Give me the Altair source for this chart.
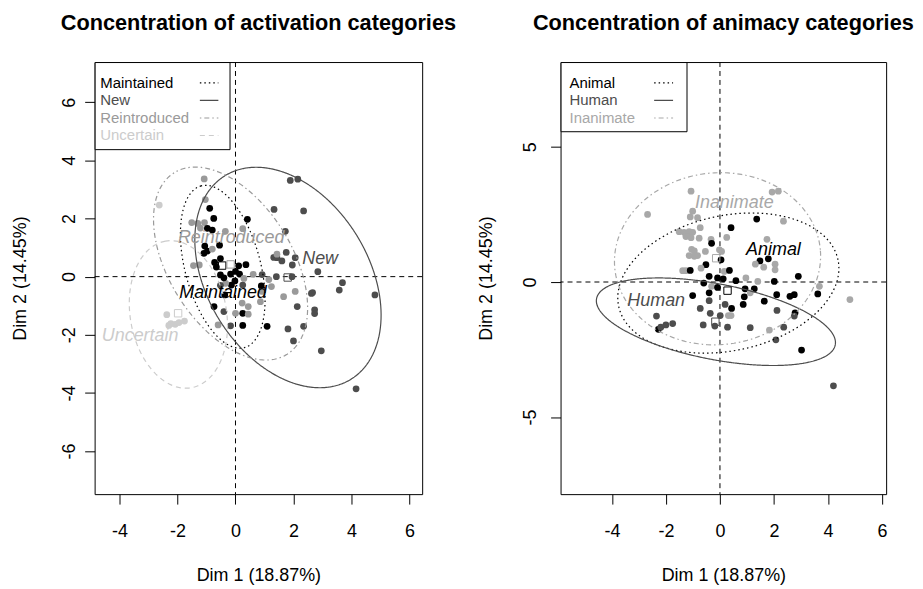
import altair as alt
import numpy as np
import pandas as pd

FONT = "Liberation Sans"

# ---------------- Left panel: activation ----------------
act_cats = ["Maintained", "New", "Reintroduced", "Uncertain"]
act_colors = ["#000000", "#4d4d4d", "#9a9a9a", "#cccccc"]
act_dashes = [[1.5, 3], [1, 0], [1.5, 3, 5, 3], [5, 4]]

act_x = [1.89, 2.15, -1.08, -2.63, -1.04, -0.89, 1.33, 2.35, -0.75, 0.41,
         -1.51, -1.30, -1.07, -1.21, -0.97, -0.80, -0.35, 0.25, 1.72, -1.06,
         -0.97, -1.09, -0.55, -0.80, -0.52, -0.72, -1.45, -1.25, -0.66, 0.11,
         0.36, 0.14, 0.61, -0.52, -0.17, 0.00, 0.92, 1.32, 1.43, 1.60,
         1.75, 2.06, 1.96, 1.41, 1.95, 2.84, 3.69, 3.58, 4.81, 1.24,
         0.89, 2.66, 2.62, 2.06, 1.66, 2.13, 2.73, 2.73, 1.81, 2.35,
         2.00, 2.96, 4.16, 1.09, -0.02, -0.14, 0.29, -0.34, -0.37, 0.25,
         -0.74, -0.40, 0.23, 0.44, 0.00, 0.25, 0.44, -0.17, 0.25, -0.60,
         0.86, 0.92, -0.40, 1.15, -0.52, 1.43, -2.37, -2.23, -2.08, -1.95,
         -1.76, -2.30]
act_y = [3.31, 3.35, 3.36, 2.46, 2.65, 2.35, 2.31, 2.26, 2.00, 1.97,
         1.86, 1.83, 1.86, 1.67, 1.66, 1.60, 1.56, 1.65, 1.56, 1.05,
         0.88, 0.80, 1.08, 0.95, 0.62, 0.49, 0.38, 0.40, 0.33, 0.37,
         0.41, 0.09, 0.08, 0.06, 0.09, 0.18, 0.07, 0.66, 0.65, 0.54,
         0.83, 0.65, 0.40, 0.00, 0.00, 0.17, -0.21, -0.46, -0.63, -0.34,
         -0.32, -0.55, -0.58, -0.51, -0.69, -1.03, -1.14, -1.27, -1.80, -1.71,
         -2.21, -2.55, -3.86, -1.71, -0.15, -0.29, -0.06, -0.23, -0.63, -0.29,
         -1.03, -1.20, -0.91, -1.03, -1.26, -1.26, -1.29, -1.69, -1.68, -1.66,
         -0.86, -0.51, -0.04, -0.10, -0.30, 0.77, -1.31, -1.62, -1.64, -1.58,
         -1.53, -1.68]
act_c = ["New", "New", "Reintroduced", "Uncertain", "Reintroduced", "Maintained", "New", "New", "Maintained", "Maintained",
         "Reintroduced", "Reintroduced", "Reintroduced", "Reintroduced", "Maintained", "Maintained", "Reintroduced", "Reintroduced", "New", "Maintained",
         "Maintained", "Maintained", "Maintained", "Reintroduced", "Maintained", "Maintained", "Reintroduced", "Reintroduced", "Maintained", "Maintained",
         "Maintained", "Maintained", "Reintroduced", "Maintained", "Maintained", "Maintained", "New", "New", "New", "New",
         "New", "New", "New", "New", "New", "New", "New", "New", "New", "Reintroduced",
         "Maintained", "New", "New", "Reintroduced", "Reintroduced", "New", "New", "New", "New", "New",
         "New", "New", "New", "Maintained", "Maintained", "Maintained", "Reintroduced", "Reintroduced", "Maintained", "New",
         "Maintained", "New", "Reintroduced", "Reintroduced", "Reintroduced", "Maintained", "Reintroduced", "New", "Maintained", "Reintroduced",
         "Reintroduced", "Reintroduced", "Maintained", "Reintroduced", "New", "Reintroduced", "Uncertain", "Uncertain", "Uncertain", "Uncertain",
         "Uncertain", "Uncertain"]

# ellipse parameters: centre, semi-axes, rotation (deg)
act_ell_cx = [-0.44, 1.81, -0.17, -1.97]
act_ell_cy = [0.34, -0.03, 0.45, -1.30]
act_ell_a = [2.88, 4.12, 3.68, 2.56]
act_ell_b = [1.30, 2.78, 2.13, 1.66]
act_ell_ang = [105, 122, 122, 100]

act_cen_x = [-0.46, 1.80, -0.17, -1.98]
act_cen_y = [0.38, -0.03, 0.42, -1.26]
act_lab_x = [-0.43, 2.92, -0.15, -3.29]
act_lab_y = [-0.57, 0.60, 1.34, -2.03]

# ---------------- Right panel: animacy ----------------
ani_cats = ["Animal", "Human", "Inanimate"]
ani_colors = ["#000000", "#4d4d4d", "#a8a8a8"]
ani_dashes = [[1.5, 3], [1, 0], [1.5, 3, 5, 3]]

ani_x = [-1.07, 1.93, 2.16, -2.68, -1.01, -1.10, -0.83, 1.36, 2.35, 0.41,
         -0.73, -1.51, -1.33, -1.14, -1.01, -1.26, -1.07, -0.77, -0.33, 0.25,
         1.74, -0.31, -1.05, -0.95, -1.14, -0.95, -0.83, -0.54, -0.02, 0.06,
         -0.52, -0.70, 0.04, 0.16, 0.35, 1.48, 1.79, 1.31, 1.62, 2.04,
         2.04, -1.38, -1.26, -1.10, -0.40, -0.60, -0.09, 0.12, 0.59, 0.96,
         1.40, 2.01, 2.90, -0.31, -0.09, 0.93, 1.27, -1.01, -0.40, 0.90,
         0.86, 1.64, 2.10, 2.59, 2.75, 1.12, 3.62, 3.68, 4.81, -0.73,
         -0.40, 0.19, 0.43, -0.36, 0.01, 0.31, 0.41, 2.11, 2.78, 2.75,
         -2.35, -2.28, -2.19, -2.00, -1.75, -0.62, -0.19, 0.28, 1.12, 1.83,
         2.36, 2.07, 3.02, 4.20]
ani_y = [3.36, 3.33, 3.36, 2.50, 2.62, 2.41, 2.38, 2.33, 2.25, 2.01,
         2.01, 1.86, 1.84, 1.86, 1.84, 1.68, 1.64, 1.62, 1.58, 1.65,
         1.58, 1.43, 1.21, 1.15, 0.98, 0.95, 0.98, 1.13, 1.19, 1.13,
         0.64, 0.51, 0.82, 0.39, 0.43, 0.78, 0.86, 0.66, 0.55, 0.66,
         0.45, 0.42, 0.42, 0.43, 0.21, -0.04, 0.15, 0.12, 0.05, 0.15,
         0.02, 0.02, 0.21, -0.16, -0.20, -0.25, -0.25, -0.50, -0.40, -0.55,
         -0.83, -0.71, -0.47, -0.53, -0.47, -0.40, -0.44, -0.16, -0.65, -0.98,
         -0.69, -0.83, -0.98, -1.16, -1.24, -1.24, -1.24, -1.05, -1.14, -1.26,
         -1.26, -1.75, -1.67, -1.59, -1.54, -1.59, -1.63, -1.67, -1.69, -1.78,
         -1.67, -2.14, -2.52, -3.84]
ani_c = ["Inanimate", "Inanimate", "Inanimate", "Inanimate", "Inanimate", "Inanimate", "Inanimate", "Animal", "Inanimate", "Animal",
         "Inanimate", "Inanimate", "Inanimate", "Inanimate", "Inanimate", "Inanimate", "Inanimate", "Inanimate", "Inanimate", "Inanimate",
         "Inanimate", "Animal", "Inanimate", "Inanimate", "Inanimate", "Inanimate", "Inanimate", "Inanimate", "Inanimate", "Inanimate",
         "Animal", "Inanimate", "Animal", "Inanimate", "Animal", "Animal", "Animal", "Inanimate", "Inanimate", "Inanimate",
         "Inanimate", "Inanimate", "Inanimate", "Animal", "Animal", "Animal", "Animal", "Animal", "Animal", "Inanimate",
         "Inanimate", "Animal", "Animal", "Inanimate", "Animal", "Animal", "Animal", "Animal", "Animal", "Animal",
         "Animal", "Animal", "Animal", "Animal", "Animal", "Inanimate", "Animal", "Inanimate", "Inanimate", "Human",
         "Human", "Human", "Animal", "Human", "Human", "Inanimate", "Inanimate", "Human", "Animal", "Human",
         "Human", "Animal", "Human", "Human", "Human", "Human", "Human", "Human", "Human", "Inanimate",
         "Human", "Human", "Animal", "Human"]

ani_ell_cx = [0.31, -0.15, -0.09]
ani_ell_cy = [-0.04, -1.47, 0.86]
ani_ell_a = [4.15, 4.50, 3.82]
ani_ell_b = [2.50, 1.40, 3.18]
ani_ell_ang = [12, -11, 5]

ani_cen_x = [0.28, -0.17, -0.14]
ani_cen_y = [-0.32, -1.47, 0.88]
ani_lab_x = [1.98, -2.36, 0.53]
ani_lab_y = [1.19, -0.69, 2.91]

HYPHEN_LABEL = "datum.value < 0 ? '-' + abs(datum.value) : '' + datum.value"


def ellipse_frame(cats, cx, cy, a, b, ang):
    rows = []
    t = np.linspace(0, 2 * np.pi, 145)
    for k, c in enumerate(cats):
        phi = np.radians(ang[k])
        xs = cx[k] + a[k] * np.cos(t) * np.cos(phi) - b[k] * np.sin(t) * np.sin(phi)
        ys = cy[k] + a[k] * np.cos(t) * np.sin(phi) + b[k] * np.sin(t) * np.cos(phi)
        for i in range(len(t)):
            rows.append({"cat": c, "i": i, "x": float(xs[i]), "y": float(ys[i])})
    return pd.DataFrame(rows)


def panel(cats, colors, dashes, px, py, pc, ell, cen_x, cen_y, lab_x, lab_y,
          xdom, ydom, yticks, width, title, ylab_pad, leg):
    color = alt.Color("cat:N", scale=alt.Scale(domain=cats, range=colors), legend=None)
    dash = alt.StrokeDash("cat:N", scale=alt.Scale(domain=cats, range=dashes), legend=None)
    X = alt.X("x:Q", scale=alt.Scale(domain=xdom, nice=False, zero=False),
              axis=alt.Axis(values=[-4, -2, 0, 2, 4, 6], labelExpr=HYPHEN_LABEL, labelPadding=33,
                            labelBaseline="alphabetic", labelAlign="center",
                            titleY=87, titleX=width / 2, titleBaseline="alphabetic",
                            titleAlign="center"),
              title="Dim 1 (18.87%)")
    Y = alt.Y("y:Q", scale=alt.Scale(domain=ydom, nice=False, zero=False),
              axis=alt.Axis(values=yticks, labelExpr=HYPHEN_LABEL, labelAngle=270, labelAlign="center",
                            labelBaseline="alphabetic", labelPadding=ylab_pad,
                            titleX=-69, titleY=217, titleAngle=270,
                            titleBaseline="alphabetic", titleAlign="center"),
              title="Dim 2 (14.45%)")

    pts = pd.DataFrame({"x": px, "y": py, "cat": pc})
    cen = pd.DataFrame({"x": cen_x, "y": cen_y, "cat": cats})
    lab = pd.DataFrame({"x": lab_x, "y": lab_y, "cat": cats})

    layers = []
    layers.append(alt.Chart(pd.DataFrame({"x": [0]})).mark_rule(
        color="black", strokeWidth=1, strokeDash=[5, 4]).encode(x=X))
    layers.append(alt.Chart(pd.DataFrame({"y": [0]})).mark_rule(
        color="black", strokeWidth=1, strokeDash=[5, 4]).encode(y=Y))
    layers.append(alt.Chart(pts).mark_circle(size=46, opacity=1).encode(x=X, y=Y, color=color))
    layers.append(alt.Chart(ell).mark_line(strokeWidth=1.2).encode(
        x=X, y=Y, color=color, strokeDash=dash, detail="cat:N", order=alt.Order("i:Q")))
    layers.append(alt.Chart(cen).mark_point(shape="square", filled=False, size=55,
                                            strokeWidth=1, opacity=1).encode(x=X, y=Y, color=color))
    layers.append(alt.Chart(lab).mark_text(font=FONT, fontSize=18, fontStyle="italic",
                                           align="center", baseline="middle").encode(
        x=X, y=Y, text="cat:N", color=color))

    # legend box (R style: label then line sample)
    bw, bh, tx, ty0, step, lx1, lx2 = leg
    layers.append(alt.Chart(pd.DataFrame({"k": [0]})).mark_rect(
        fill="white", stroke="black", strokeWidth=1).encode(
        x=alt.value(0.5), x2=alt.value(bw), y=alt.value(0.5), y2=alt.value(bh)))
    for i, c in enumerate(cats):
        row = pd.DataFrame({"cat": [c]})
        layers.append(alt.Chart(row).mark_text(font=FONT, fontSize=15, align="left",
                                               baseline="middle").encode(
            x=alt.value(tx), y=alt.value(ty0 + step * i), text="cat:N", color=color))
        layers.append(alt.Chart(row).mark_rule(strokeWidth=1.2).encode(
            x=alt.value(lx1), x2=alt.value(lx2), y=alt.value(ty0 + step * i),
            color=color, strokeDash=dash))

    return alt.layer(*layers).properties(
        width=width, height=434,
        title=alt.TitleParams(text=title, font=FONT, fontSize=21.8, fontWeight="bold",
                              color="black", anchor="middle", baseline="alphabetic",
                              offset=10))


left = panel(act_cats, act_colors, act_dashes, act_x, act_y, act_c,
             ellipse_frame(act_cats, act_ell_cx, act_ell_cy, act_ell_a, act_ell_b, act_ell_ang),
             act_cen_x, act_cen_y, act_lab_x, act_lab_y,
             [-4.86, 6.44], [-7.48, 7.38], [-6, -4, -2, 0, 2, 4, 6], 329,
             "Concentration of activation categories", 10,
             (136, 88, 5.7, 21, 17.6, 105.7, 124.3))

right = panel(ani_cats, ani_colors, ani_dashes, ani_x, ani_y, ani_c,
              ellipse_frame(ani_cats, ani_ell_cx, ani_ell_cy, ani_ell_a, ani_ell_b, ani_ell_ang),
              ani_cen_x, ani_cen_y, ani_lab_x, ani_lab_y,
              [-5.90, 6.15], [-7.85, 8.14], [-5, 0, 5], 327,
              "Concentration of animacy categories", 15,
              (127, 70, 9, 21, 17.6, 94, 113))

chart = alt.hconcat(left, right, spacing=139, bounds="flush").resolve_scale(
    x="independent", y="independent", color="independent", strokeDash="independent"
).configure_view(stroke="black", strokeWidth=1).configure_axis(
    labelFont=FONT, labelFontSize=18, labelColor="black", titleFont=FONT,
    titleFontSize=18, titleFontWeight="normal", titleColor="black",
    tickColor="black", tickSize=10, tickWidth=1, domain=False, grid=False
).properties(padding={"left": 3, "top": 3, "right": 0, "bottom": 0})

chart.save("out.html", embed_options={"renderer": "svg", "actions": False})
